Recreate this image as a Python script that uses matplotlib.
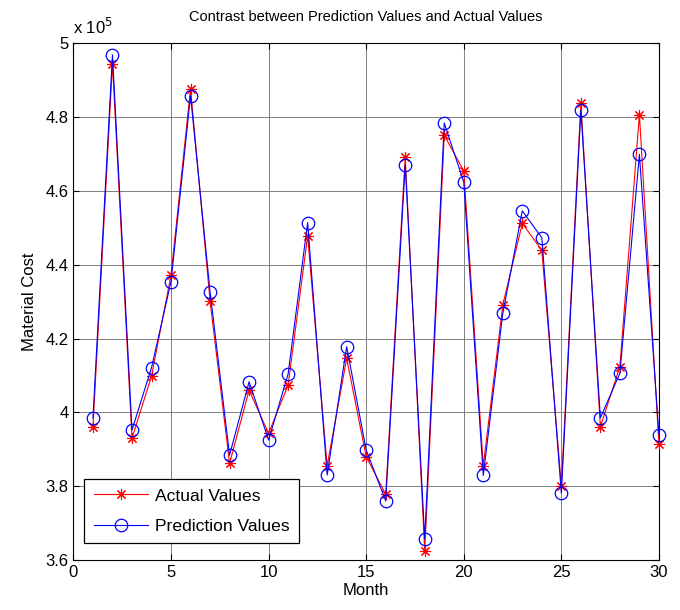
import matplotlib.pyplot as plt
from matplotlib.ticker import FuncFormatter

plt.rcParams['font.family'] = ['Liberation Sans', 'DejaVu Sans']

# months and material cost values
months = list(range(1, 31))
actual = [396000, 494500, 393000, 409800, 437200, 487700, 430200, 386200, 406000, 394300,
          407400, 447800, 385500, 414600, 388000, 377800, 469200, 362500, 475100, 465400,
          385500, 429100, 451200, 443900, 380100, 483700, 396100, 412400, 480700, 391400]
predicted = [398500, 496900, 395200, 412100, 435400, 485800, 432700, 388400, 408300, 392500,
             410400, 451400, 383000, 417800, 389800, 376000, 467000, 365700, 478400, 462400,
             382900, 426800, 454600, 447300, 378100, 481900, 398500, 410600, 469900, 394000]

fig = plt.figure(figsize=(6.8, 6.1), dpi=100)
ax = fig.add_axes([0.108, 0.082, 0.861, 0.847])

ax.plot(months, actual, color='red', lw=0.8, marker=(8, 2, 0), markersize=8,
        markeredgewidth=0.8, label='Actual Values', clip_on=False, zorder=3)
ax.plot(months, predicted, color='blue', lw=0.8, marker='o', markersize=9,
        markerfacecolor='none', markeredgewidth=0.9, label='Prediction Values',
        clip_on=False, zorder=4)

ax.set_xlim(0, 30)
ax.set_ylim(3.6e5, 5e5)
ax.set_xticks(range(0, 31, 5))
ax.set_yticks([3.6e5 + 0.2e5 * i for i in range(8)])
ax.yaxis.set_major_formatter(FuncFormatter(lambda v, p: '%g' % round(v / 1e5, 1)))
ax.tick_params(direction='in', top=True, right=True, labelsize=12, length=4, width=0.8)
ax.grid(True, color='0.5', linestyle='-', linewidth=0.7)
ax.set_axisbelow(True)
for s in ax.spines.values():
    s.set_linewidth(0.8)

ax.text(0, 1.012, r'x 10$^5$', transform=ax.transAxes, fontsize=12, ha='left', va='bottom')
ax.set_title('Contrast between Prediction Values and Actual Values', fontsize=10.5, pad=16)
ax.set_xlabel('Month', fontsize=12, labelpad=2)
ax.set_ylabel('Material Cost', fontsize=12, labelpad=6)

leg = ax.legend(loc='lower left', bbox_to_anchor=(0, 0.012), borderaxespad=0.6, fontsize=12.6,
                fancybox=False, framealpha=1, edgecolor='black', handlelength=3.1,
                handletextpad=0.4, borderpad=0.55, labelspacing=0.85)
leg.get_frame().set_linewidth(0.9)
leg.set_zorder(5)

fig.savefig('out.png', dpi=100)
